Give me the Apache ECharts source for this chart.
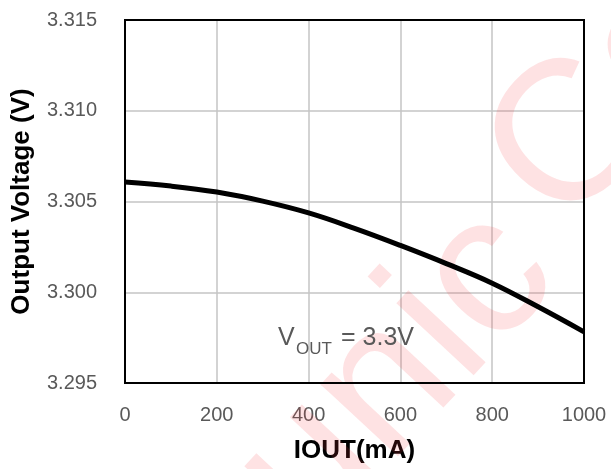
<!DOCTYPE html>
<html>
<head>
<meta charset="utf-8">
<script src="https://cdn.jsdelivr.net/npm/echarts@6/dist/echarts.min.js"></script>
<style>
html,body{margin:0;padding:0;background:#fff;}
#chart{width:611px;height:469px;}
</style>
</head>
<body>
<div id="chart"></div>
<script>
var currentMA = [0, 100, 200, 300, 400, 500, 600, 700, 800, 900, 1000];
var outputV = [3.30607, 3.30585, 3.30552, 3.30502, 3.30437, 3.30352, 3.30258, 3.30158, 3.30050, 3.29920, 3.29782];
var xTicks = [0, 200, 400, 600, 800, 1000];
var yTicks = [3.295, 3.300, 3.305, 3.310, 3.315];

var FONT = "'Liberation Sans', Arial, sans-serif";
var chart = echarts.init(document.getElementById('chart'), null, {renderer: 'canvas'});
var pts = currentMA.map(function (x, i) { return [x, outputV[i]]; });
var WM = 'rgba(245,60,70,0.15)';
var ROT = 47 * Math.PI / 180;

chart.setOption({
  animation: false,
  backgroundColor: '#ffffff',
  grid: {left: 125, right: 27, top: 20, bottom: 86, show: true, borderColor: '#000', borderWidth: 2, backgroundColor: 'transparent', z: 3},
  xAxis: {
    type: 'value', min: xTicks[0], max: xTicks[xTicks.length - 1], interval: 200,
    name: 'IOUT(mA)', nameLocation: 'middle', nameGap: 55,
    nameTextStyle: {fontFamily: FONT, fontSize: 26, fontWeight: 'bold', color: '#000'},
    axisLine: {show: false}, axisTick: {show: false},
    axisLabel: {fontFamily: FONT, fontSize: 20, color: '#595959', margin: 22,
      formatter: function (v) { return String(Math.round(v)); }},
    splitLine: {show: true, lineStyle: {color: '#c4c4c4', width: 1.5}}
  },
  yAxis: {
    type: 'value', min: yTicks[0], max: yTicks[yTicks.length - 1], interval: 0.005,
    name: 'Output Voltage (V)', nameLocation: 'middle', nameGap: 90, nameRotate: 90,
    nameTextStyle: {fontFamily: FONT, fontSize: 26, fontWeight: 'bold', color: '#000'},
    axisLine: {show: false}, axisTick: {show: false},
    axisLabel: {fontFamily: FONT, fontSize: 20, color: '#595959', margin: 28,
      formatter: function (v) { return v.toFixed(3); }},
    splitLine: {show: true, lineStyle: {color: '#c4c4c4', width: 1.5}}
  },
  graphic: [
    {type: 'text', z: 1, x: 247, y: 684, rotation: ROT,
      style: {text: 'Runic', font: 'normal 200px ' + FONT, fill: WM, textAlign: 'left', textVerticalAlign: 'bottom'}},
    {type: 'text', z: 1, x: 597, y: 263, rotation: ROT,
      style: {text: 'Co', font: 'normal 200px ' + FONT, fill: WM, textAlign: 'left', textVerticalAlign: 'bottom'}},
    {type: 'text', z: 10, x: 278, y: 351,
      style: {text: 'V', font: 'normal 25px ' + FONT, fill: '#595959', textAlign: 'left', textVerticalAlign: 'bottom'}},
    {type: 'text', z: 10, x: 296, y: 358,
      style: {text: 'OUT', font: 'normal 17px ' + FONT, fill: '#595959', textAlign: 'left', textVerticalAlign: 'bottom'}},
    {type: 'text', z: 10, x: 341, y: 351,
      style: {text: '= 3.3V', font: 'normal 25px ' + FONT, fill: '#595959', textAlign: 'left', textVerticalAlign: 'bottom'}}
  ],
  series: [{
    type: 'line', data: pts, smooth: 0.4, showSymbol: false, symbol: 'none', z: 5,
    lineStyle: {color: '#000', width: 5}
  }]
});
</script>
</body>
</html>
